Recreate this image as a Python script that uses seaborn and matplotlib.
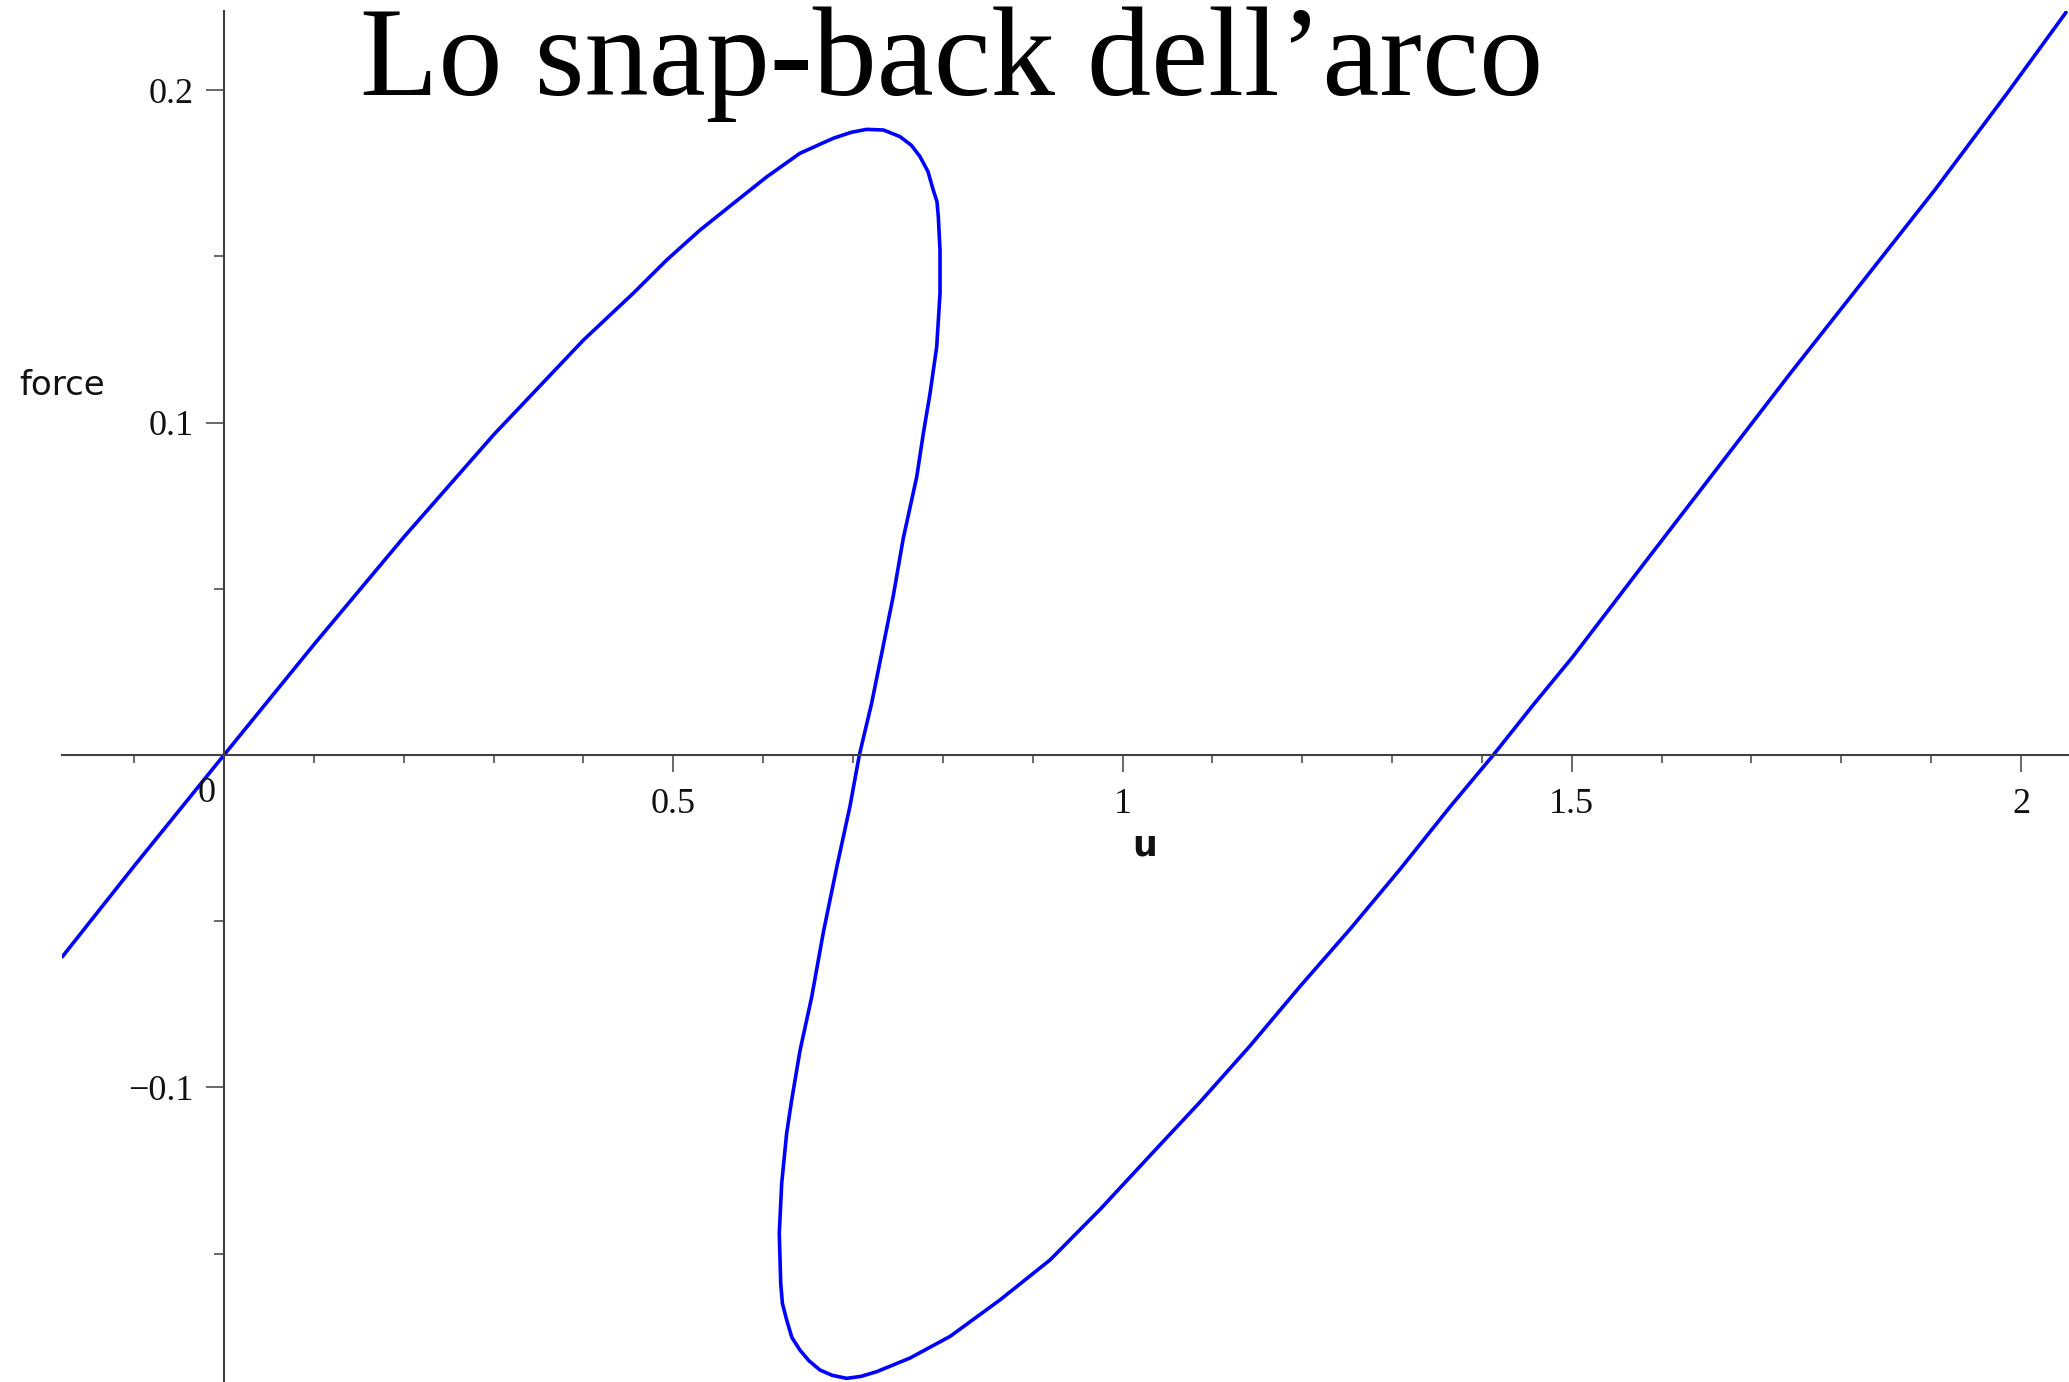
import numpy as np
import pandas as pd
import matplotlib
matplotlib.use("Agg")
import matplotlib.pyplot as plt
from matplotlib.ticker import FixedLocator, FixedFormatter, NullFormatter
import seaborn as sns

# Load–displacement path of the arch (u, force), traced in order along the curve
u_vals = [
    -0.180, -0.100, 0.000, 0.100, 0.200, 0.300, 0.400, 0.4555, 0.4927, 0.5298,
    0.5668, 0.604, 0.641, 0.678, 0.698, 0.7153, 0.734, 0.7524, 0.765, 0.7746,
    0.7835, 0.7894, 0.7935, 0.795, 0.7969, 0.7969, 0.7932, 0.7858, 0.7783, 0.771,
    0.756, 0.7449, 0.7338, 0.7209, 0.7071, 0.6967, 0.6819, 0.667, 0.654, 0.641,
    0.6318, 0.6262, 0.6207, 0.618, 0.6196, 0.6215, 0.6262, 0.632, 0.641, 0.651,
    0.6633, 0.677, 0.693, 0.709, 0.7264, 0.7635, 0.808, 0.8637, 0.9193, 0.975,
    1.0306, 1.0862, 1.1419, 1.1976, 1.2532, 1.3088, 1.3645, 1.4127, 1.4572, 1.501,
    1.5816, 1.6624, 1.7432, 1.824, 1.9047, 1.9855, 2.0501,
]
force_vals = [
    -0.0607, -0.0334, 0.0000, 0.0332, 0.0655, 0.0963, 0.1248, 0.1389, 0.1489, 0.1579,
    0.1659, 0.1739, 0.1810, 0.1855, 0.1873, 0.1882, 0.1880, 0.1860, 0.1834, 0.1800,
    0.1755, 0.1699, 0.1665, 0.1619, 0.1519, 0.1389, 0.1228, 0.1088, 0.0967, 0.0837,
    0.0652, 0.0479, 0.0330, 0.0157, 0.0000, -0.0154, -0.0338, -0.0534, -0.0729, -0.0890,
    -0.1038, -0.1138, -0.1288, -0.1439, -0.1589, -0.1650, -0.1699, -0.1752, -0.1790, -0.1822,
    -0.1850, -0.1866, -0.1875, -0.1869, -0.1855, -0.1814, -0.1749, -0.1639, -0.1519, -0.1367,
    -0.1205, -0.1044, -0.0875, -0.0696, -0.0524, -0.0344, -0.0156, 0.0000, 0.0151, 0.0295,
    0.0580, 0.0864, 0.1148, 0.1425, 0.1702, 0.1994, 0.2234,
]

x_major = [0.5, 1.0, 1.5, 2.0]
x_major_labels = ["0.5", "1", "1.5", "2"]
x_minor = [-0.1, 0.1, 0.2, 0.3, 0.4, 0.6, 0.7, 0.8, 0.9, 1.1, 1.2, 1.3, 1.4,
           1.6, 1.7, 1.8, 1.9]
y_major = [-0.1, 0.1, 0.2]
y_major_labels = ["\u22120.1", "0.1", "0.2"]
y_minor = [-0.15, -0.05, 0.05, 0.15]

title_text = "Lo snap-back dell\u2019arco"

df = pd.DataFrame({"u": u_vals, "force": force_vals})

sns.set_theme(style="white")
plt.rcParams["font.family"] = ["Liberation Serif", "DejaVu Serif"]

fig = plt.figure(figsize=(20.69, 13.82), dpi=100)
ax = fig.add_axes([62 / 2069, 0.0, (2069 - 62) / 2069, (1382 - 11) / 1382])
ax.set_facecolor("white")

sns.lineplot(data=df, x="u", y="force", sort=False, estimator=None,
             color="#0000ff", linewidth=2.6, ax=ax)
for line in ax.get_lines():
    line.set_solid_joinstyle("round")
    line.set_solid_capstyle("round")

ax.set_xlim(-0.1803, 2.0534)
ax.set_ylim(-0.1886, 0.2238)

# Axes crossing at the origin
axis_color = "#404040"
for side in ("top", "right"):
    ax.spines[side].set_visible(False)
for side in ("left", "bottom"):
    ax.spines[side].set_position(("data", 0))
    ax.spines[side].set_color(axis_color)
    ax.spines[side].set_linewidth(1.5)

ax.xaxis.set_major_locator(FixedLocator(x_major))
ax.xaxis.set_major_formatter(FixedFormatter(x_major_labels))
ax.xaxis.set_minor_locator(FixedLocator(x_minor))
ax.xaxis.set_minor_formatter(NullFormatter())
ax.yaxis.set_major_locator(FixedLocator(y_major))
ax.yaxis.set_major_formatter(FixedFormatter(y_major_labels))
ax.yaxis.set_minor_locator(FixedLocator(y_minor))
ax.yaxis.set_minor_formatter(NullFormatter())

ax.tick_params(axis="x", which="major", direction="out", length=12, width=1.1,
               color=axis_color, labelsize=26, pad=12, bottom=True)
ax.tick_params(axis="x", which="minor", direction="out", length=6, width=1.1,
               color=axis_color, bottom=True)
ax.tick_params(axis="y", which="major", direction="out", length=13, width=1.1,
               color=axis_color, labelsize=26, pad=9, left=True)
ax.tick_params(axis="y", which="minor", direction="out", length=7, width=1.1,
               color=axis_color, left=True)
for lbl in ax.get_xticklabels() + ax.get_yticklabels():
    lbl.set_color("#111111")

# Origin label
ax.annotate("0", xy=(0, 0), xytext=(-12.6, -27.5), textcoords="offset points",
            ha="center", va="center", fontsize=26, color="#111111")

# Axis titles
ax.set_xlabel("u", fontsize=25, fontfamily="DejaVu Sans", fontweight="bold",
              color="#111111", va="center", ha="center")
ax.xaxis.set_label_coords(1.025, -0.0271, transform=ax.transData)
ax.set_ylabel("force", fontsize=24.5, fontfamily="DejaVu Sans", rotation=0,
              color="#111111", va="center", ha="center")
ax.yaxis.set_label_coords(-0.1797, 0.111, transform=ax.transData)

fig.text(952 / 2069, 1 - 95 / 1382, title_text, fontsize=92.3,
         fontfamily=["Liberation Serif", "DejaVu Serif"], color="black",
         ha="center", va="baseline")

fig.savefig("out.png", dpi=100, facecolor="white")
